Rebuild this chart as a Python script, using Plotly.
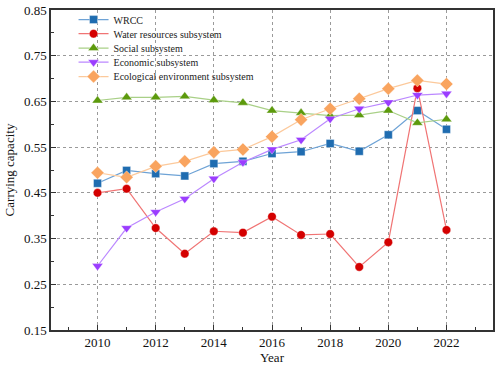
import plotly.graph_objects as go

years = list(range(2010, 2023))
wrcc = [0.471, 0.499, 0.492, 0.487, 0.514, 0.519, 0.536, 0.540, 0.558, 0.541, 0.577, 0.630, 0.589]
water = [0.450, 0.459, 0.373, 0.317, 0.366, 0.363, 0.398, 0.358, 0.360, 0.288, 0.342, 0.679, 0.369]
social = [0.652, 0.659, 0.659, 0.661, 0.653, 0.647, 0.630, 0.625, 0.619, 0.620, 0.630, 0.603, 0.611]
economic = [0.290, 0.373, 0.408, 0.437, 0.481, 0.517, 0.545, 0.566, 0.612, 0.634, 0.648, 0.664, 0.667]
ecological = [0.494, 0.484, 0.508, 0.519, 0.539, 0.545, 0.573, 0.610, 0.634, 0.656, 0.678, 0.696, 0.688]

names = ["WRCC", "Water resources subsystem", "Social subsystem",
         "Economic subsystem", "Ecological environment subsystem"]
series = [wrcc, water, social, economic, ecological]
symbols = ["square", "circle", "triangle-up", "triangle-down", "diamond"]
marker_colors = ["#1f6cb0", "#d40000", "#5c9a0c", "#9b3dff", "#f9a45f"]
line_colors = ["#6ea3d6", "#f07474", "#a9d087", "#bb88ff", "#fcc99b"]
sizes = [8, 8.5, 9.5, 9.5, 10]
legend_ids = ["legend", "legend2", "legend3", "legend4", "legend5"]
legend_y = [0.970, 0.926, 0.881, 0.837, 0.792]

FONT = "Liberation Serif, Times New Roman, serif"

fig = go.Figure()
for i in range(5):
    fig.add_trace(go.Scatter(
        x=years, y=series[i], name=names[i], mode="lines+markers",
        line=dict(color=line_colors[i], width=1.2),
        marker=dict(symbol=symbols[i], size=sizes[i], color=marker_colors[i],
                    line=dict(width=0.6, color="rgba(255,255,255,0.6)")),
        legend=legend_ids[i],
    ))

layout_legends = {}
for i, lid in enumerate(legend_ids):
    layout_legends[lid] = dict(
        x=0.051, y=legend_y[i], xanchor="left", yanchor="middle",
        bgcolor="rgba(0,0,0,0)", borderwidth=0,
        font=dict(family=FONT, size=10, color="#222"),
        itemclick=False,
    )

axis_common = dict(
    showline=True, linecolor="#333", linewidth=1.5, mirror=True,
    ticks="inside", ticklen=5, tickwidth=1.2, tickcolor="#333",
    showgrid=True, gridcolor="#9a9a9a", griddash="dot", gridwidth=1,
    zeroline=False, ticklabeloverflow="allow",
    tickfont=dict(family=FONT, size=13, color="#111"),
)

fig.update_layout(
    width=498, height=365,
    margin=dict(l=51, r=3, t=7, b=35),
    paper_bgcolor="white", plot_bgcolor="white",
    showlegend=True,
    xaxis=dict(range=[2008.4, 2023.6], tickmode="array",
               tickvals=[2010, 2012, 2014, 2016, 2018, 2020, 2022],
               minor=dict(tickvals=[2009, 2011, 2013, 2015, 2017, 2019, 2021, 2023],
                          ticks="inside", ticklen=3, tickcolor="#333", showgrid=False),
               title=dict(text="Year", font=dict(family=FONT, size=13, color="#111"), standoff=0),
               **axis_common),
    yaxis=dict(range=[0.15, 0.85], tickmode="array",
               tickvals=[0.15, 0.25, 0.35, 0.45, 0.55, 0.65, 0.75, 0.85],
               ticktext=["0.15", "0.25", "0.35", "0.45", "0.55", "0.65", "0.75", "0.85"],
               minor=dict(tickvals=[0.20, 0.30, 0.40, 0.50, 0.60, 0.70, 0.80],
                          ticks="inside", ticklen=3, tickcolor="#333", showgrid=False),
               title=dict(text="Carrying capacity", font=dict(family=FONT, size=13, color="#111"), standoff=6),
               **axis_common),
    **layout_legends,
)

fig.write_html("out.html", config={"displayModeBar": False},
               post_script="document.body.style.margin='0';document.body.style.padding='0';")
